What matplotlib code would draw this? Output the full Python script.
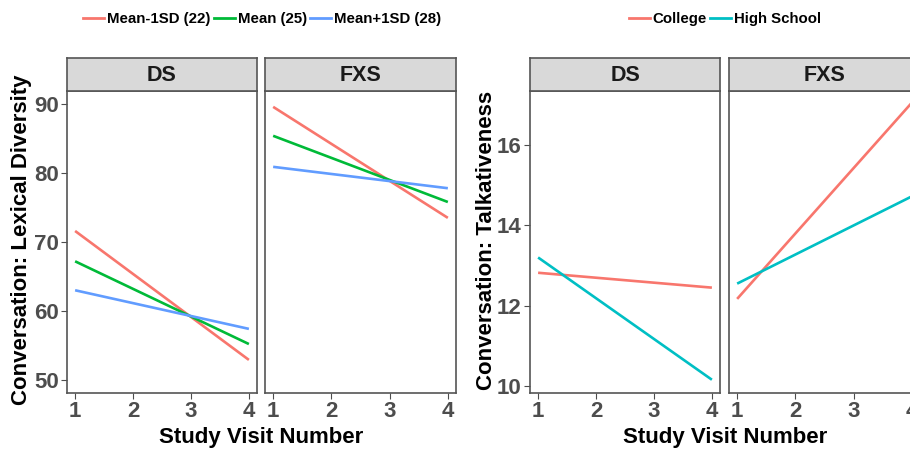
import matplotlib.pyplot as plt
from matplotlib.lines import Line2D

plt.rcParams['font.family'] = ['Liberation Sans', 'DejaVu Sans']
plt.rcParams['font.weight'] = 'bold'

visits = [1, 4]
panels = ['DS', 'FXS']

# left chart: lexical diversity by age level
lex_groups = ['Mean-1SD (22)', 'Mean (25)', 'Mean+1SD (28)']
lex_colors = ['#F8766D', '#00BA38', '#619CFF']
lex_ds = [[71.6, 52.9], [67.2, 55.2], [63.0, 57.4]]
lex_fxs = [[89.6, 73.5], [85.4, 75.8], [80.9, 77.8]]

# right chart: talkativeness by maternal education
talk_groups = ['College', 'High School']
talk_colors = ['#F8766D', '#00BFC4']
talk_ds = [[12.82, 12.45], [13.2, 10.16]]
talk_fxs = [[12.17, 17.05], [12.55, 14.72]]

W, H = 910, 449
fig = plt.figure(figsize=(W / 100, H / 100), dpi=100)

def px_axes(x0, y0, x1, y1):
    return fig.add_axes([x0 / W, 1 - y1 / H, (x1 - x0) / W, (y1 - y0) / H])

def panel(x0, x1, title, series, colors, ylim, yticks, show_y):
    ax = px_axes(x0, 91, x1, 393)
    for vals, c in zip(series, colors):
        ax.plot(visits, vals, color=c, lw=1.9, solid_capstyle='butt')
    ax.set_xlim(0.86, 4.14)
    ax.set_ylim(*ylim)
    ax.set_xticks([1, 2, 3, 4])
    ax.set_yticks(yticks)
    ax.tick_params(colors='#4D4D4D', labelsize=16, length=4, width=0.8, pad=2)
    for lab in ax.get_xticklabels() + ax.get_yticklabels():
        lab.set_fontweight('bold')
    if not show_y:
        ax.tick_params(axis='y', left=False, labelleft=False)
    for s in ax.spines.values():
        s.set_color('#555555')
        s.set_linewidth(1.2)
    st = px_axes(x0, 58, x1, 91)
    st.set_facecolor('#D9D9D9')
    st.set_xticks([])
    st.set_yticks([])
    for s in st.spines.values():
        s.set_color('#555555')
        s.set_linewidth(1.2)
    st.text(0.5, 0.47, title, ha='center', va='center', fontsize=15.5,
            fontweight='bold', color='#1A1A1A', transform=st.transAxes)
    return ax

lex_ylim = (48.1, 91.9)
panel(67, 257, 'DS', lex_ds, lex_colors, lex_ylim, [50, 60, 70, 80, 90], True)
panel(265, 456, 'FXS', lex_fxs, lex_colors, lex_ylim, [50, 60, 70, 80, 90], False)

talk_ylim = (9.83, 17.34)
panel(530, 720, 'DS', talk_ds, talk_colors, talk_ylim, [10, 12, 14, 16], True)
panel(729, 920, 'FXS', talk_fxs, talk_colors, talk_ylim, [10, 12, 14, 16], False)

fig.text(22 / W, 1 - 240 / H, 'Conversation: Lexical Diversity', rotation=90,
         ha='center', va='center', fontsize=16, fontweight='bold')
fig.text(487 / W, 1 - 240 / H, 'Conversation: Talkativeness', rotation=90,
         ha='center', va='center', fontsize=16, fontweight='bold')
fig.text(261 / W, 1 - 437 / H, 'Study Visit Number', ha='center', va='center',
         fontsize=16, fontweight='bold')
fig.text(725 / W, 1 - 437 / H, 'Study Visit Number', ha='center', va='center',
         fontsize=16, fontweight='bold')

def top_legend(cx, labels, colors):
    handles = [Line2D([], [], color=c, lw=2) for c in colors]
    fig.legend(handles, labels, loc='center', bbox_to_anchor=(cx / W, 1 - 19 / H),
               ncol=len(labels), frameon=False, handlelength=1.4,
               handletextpad=0.2, columnspacing=0.2,
               prop={'weight': 'bold', 'size': 10.8})

top_legend(262, lex_groups, lex_colors)
top_legend(725, talk_groups, talk_colors)

fig.savefig('out.png', dpi=100)
